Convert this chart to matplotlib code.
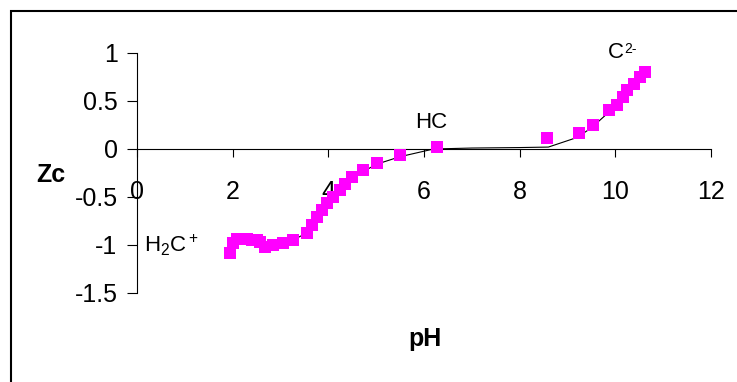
import numpy as np
import matplotlib.pyplot as plt
from matplotlib.patches import Rectangle

plt.rcParams['font.family'] = ['Liberation Sans', 'DejaVu Sans']
plt.rcParams['mathtext.fontset'] = 'custom'
plt.rcParams['mathtext.rm'] = 'Liberation Sans'

# measured points
ph = [1.95, 2.0, 2.1, 2.2, 2.3, 2.4, 2.5, 2.57, 2.68, 2.85, 3.05, 3.26,
      3.56, 3.66, 3.77, 3.87, 3.97, 4.1, 4.25, 4.35, 4.5, 4.73, 5.02, 5.5,
      6.27, 8.58, 9.25, 9.54, 9.86, 10.04, 10.15, 10.25, 10.38, 10.52, 10.63]
zc = [-1.08, -0.98, -0.94, -0.94, -0.94, -0.95, -0.95, -0.97, -1.02, -1.0, -0.98, -0.95,
      -0.88, -0.79, -0.71, -0.64, -0.56, -0.5, -0.43, -0.36, -0.29, -0.22, -0.15, -0.06,
      0.02, 0.11, 0.17, 0.25, 0.41, 0.46, 0.54, 0.61, 0.68, 0.75, 0.8]

# calculated curve
ph_calc = [1.95, 2.0, 2.3, 2.7, 3.0, 3.3, 3.6, 4.0, 4.5, 5.0, 5.5, 6.2, 7.0, 8.0,
           8.6, 9.2, 9.5, 9.9, 10.2, 10.6]
zc_calc = [-1.08, -0.97, -0.95, -1.0, -0.98, -0.94, -0.86, -0.57, -0.3, -0.16, -0.08,
           0.0, 0.01, 0.015, 0.02, 0.12, 0.22, 0.4, 0.58, 0.8]

xticks = np.arange(0, 13, 2)
yticks = [-1.5, -1, -0.5, 0, 0.5, 1]
ytick_labels = ['-1.5', '-1', '-0.5', '0', '0.5', '1']

fig = plt.figure(figsize=(7.37, 3.82), dpi=100)
ax = fig.add_axes([137/737, 89/382, 574/737, 240/382])

ax.plot(ph_calc, zc_calc, color='black', linewidth=0.8, zorder=2)
ax.plot(ph, zc, linestyle='none', marker='s', markersize=8,
        color='#FF00FF', markeredgewidth=0, zorder=3)

ax.set_xlim(0, 12)
ax.set_ylim(-1.5, 1)
ax.set_xticks(xticks)
ax.set_xticklabels([str(t) for t in xticks])
ax.set_yticks(yticks)
ax.set_yticklabels(ytick_labels)

ax.spines['top'].set_visible(False)
ax.spines['right'].set_visible(False)
ax.spines['bottom'].set_position(('data', 0))
for s in ['left', 'bottom']:
    ax.spines[s].set_linewidth(0.8)

ax.tick_params(axis='y', direction='out', length=7, width=0.8, pad=7, labelsize=18)
ax.tick_params(axis='x', direction='out', length=6, width=0.8, pad=16, labelsize=18)

ax.text(0.15, -1.0, r'H$_2$C$^+$', fontsize=16, va='center', ha='left')
ax.text(6.15, 0.28, 'HC', fontsize=16, va='center', ha='center')
ax.text(9.85, 1.0, 'C', fontsize=16, va='center', ha='left')
ax.annotate('2-', (9.85, 1.0), xytext=(11.5, 3), textcoords='offset points',
            fontsize=10, va='center', ha='left')

fig.text(51/737, 1 - 175/382, 'Zc', fontsize=18, fontweight='bold', ha='center', va='center')
fig.text(425/737, 1 - 339/382, 'pH', fontsize=18, fontweight='bold', ha='center', va='center')

fig.patches.append(Rectangle((11/737, -0.1), 1.2, 1.1 - 11/382, transform=fig.transFigure,
                             fill=False, edgecolor='black', linewidth=1.5))

fig.savefig('out.png', dpi=100)
